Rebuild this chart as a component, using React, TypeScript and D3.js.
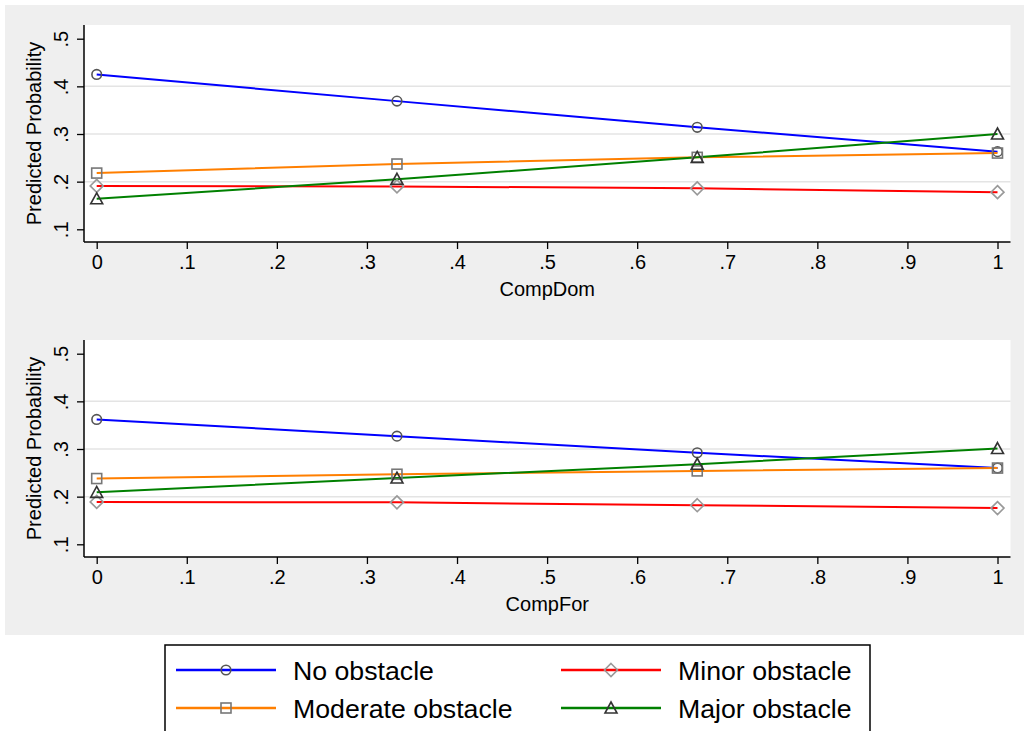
import React, { useEffect, useRef } from 'react';
import * as d3 from 'd3';

const xValues = [0, 1 / 3, 2 / 3, 1];
const xTicks = [0, 0.1, 0.2, 0.3, 0.4, 0.5, 0.6, 0.7, 0.8, 0.9, 1];
const yTicks = [0.1, 0.2, 0.3, 0.4, 0.5];

const seriesNames = ['No obstacle', 'Moderate obstacle', 'Minor obstacle', 'Major obstacle'];

// CompDom panel
const domNo = [0.425, 0.369, 0.314, 0.263];
const domModerate = [0.218, 0.237, 0.251, 0.26];
const domMinor = [0.191, 0.19, 0.186, 0.178];
const domMajor = [0.164, 0.205, 0.251, 0.3];

// CompFor panel
const forNo = [0.362, 0.327, 0.292, 0.26];
const forModerate = [0.238, 0.247, 0.254, 0.26];
const forMinor = [0.189, 0.188, 0.182, 0.176];
const forMajor = [0.209, 0.239, 0.268, 0.301];

const W = 1029;
const H = 731;
const FONT = 'Liberation Sans, Arial, Helvetica, sans-serif';

type Marker = 'circle' | 'square' | 'diamond' | 'triangle';
const STYLE: Record<string, { color: string; marker: Marker; mcolor: string }> = {
  'No obstacle': { color: '#0000ff', marker: 'circle', mcolor: '#555555' },
  'Moderate obstacle': { color: '#ff7f00', marker: 'square', mcolor: '#777777' },
  'Minor obstacle': { color: '#ff0000', marker: 'diamond', mcolor: '#999999' },
  'Major obstacle': { color: '#008000', marker: 'triangle', mcolor: '#333333' },
};

const panels = [
  { title: 'CompDom', top: 0, series: [domNo, domModerate, domMinor, domMajor] },
  { title: 'CompFor', top: 315, series: [forNo, forModerate, forMinor, forMajor] },
];

function drawMarker(
  g: d3.Selection<SVGGElement, unknown, null, undefined>,
  kind: Marker,
  cx: number,
  cy: number,
  color: string,
) {
  const common = (s: d3.Selection<any, unknown, null, undefined>) =>
    s.attr('fill', 'none').attr('stroke', color).attr('stroke-width', 1.6);
  if (kind === 'circle') {
    common(g.append('circle').attr('cx', cx).attr('cy', cy).attr('r', 4.8));
  } else if (kind === 'square') {
    common(g.append('rect').attr('x', cx - 5).attr('y', cy - 5).attr('width', 10).attr('height', 10));
  } else if (kind === 'diamond') {
    common(
      g.append('path').attr('d', `M${cx},${cy - 6.5}L${cx + 6.5},${cy}L${cx},${cy + 6.5}L${cx - 6.5},${cy}Z`),
    );
  } else {
    common(
      g.append('path').attr('d', `M${cx},${cy - 6}L${cx + 6},${cy + 5}L${cx - 6},${cy + 5}Z`),
    );
  }
}

const App: React.FC = () => {
  const svgRef = useRef<SVGSVGElement>(null);

  useEffect(() => {
    if (!svgRef.current) return;
    const root = d3.select(svgRef.current);
    root.selectAll('*').remove();

    // outer graph region
    root.append('rect').attr('x', 0).attr('y', 0).attr('width', W).attr('height', H).attr('fill', '#ffffff');
    root.append('rect').attr('x', 5).attr('y', 5).attr('width', 1019).attr('height', 630).attr('fill', '#efefef');

    const x = d3.scaleLinear().domain([0, 1]).range([96.7, 997.5]);

    panels.forEach(panel => {
      const g = root.append('g').attr('transform', `translate(0,${panel.top})`);
      const y = d3.scaleLinear().domain([0.1, 0.5]).range([229.3, 38.7]);
      const plotTop = 25;
      const plotBottom = 242;
      const plotLeft = 84;
      const plotRight = 1010.5;

      g.append('rect')
        .attr('x', plotLeft)
        .attr('y', plotTop)
        .attr('width', plotRight - plotLeft)
        .attr('height', plotBottom - plotTop)
        .attr('fill', '#ffffff');

      // grid lines (not at the extremes)
      g.selectAll('.grid')
        .data(yTicks.slice(1, -1))
        .enter()
        .append('line')
        .attr('x1', plotLeft)
        .attr('x2', plotRight)
        .attr('y1', d => y(d))
        .attr('y2', d => y(d))
        .attr('stroke', '#e4e4e4')
        .attr('stroke-width', 1.5);

      // y axis
      const yAxis = g
        .append('g')
        .attr('transform', `translate(${plotLeft},0)`)
        .call(
          d3
            .axisLeft(y)
            .tickValues(yTicks)
            .tickSize(7)
            .tickFormat(d => d3.format('.1f')(d as number).replace(/^0/, '')),
        );
      yAxis.select('.domain').attr('d', `M0,${plotTop}V${plotBottom}`).attr('stroke', '#000').attr('stroke-width', 1.5);
      yAxis.selectAll('.tick line').attr('stroke', '#000').attr('stroke-width', 1.3);
      yAxis
        .selectAll('.tick text')
        .attr('x', null)
        .attr('dy', null)
        .attr('transform', 'translate(-16,0) rotate(-90)')
        .attr('text-anchor', 'middle')
        .attr('fill', '#000')
        .style('font-family', FONT)
        .style('font-size', '20px');

      // x axis
      const xAxis = g
        .append('g')
        .attr('transform', `translate(0,${plotBottom})`)
        .call(
          d3
            .axisBottom(x)
            .tickValues(xTicks)
            .tickSize(7)
            .tickPadding(6)
            .tickFormat(d => {
              const v = d as number;
              if (v === 0 || v === 1) return String(v);
              return d3.format('.1f')(v).replace(/^0/, '');
            }),
        );
      xAxis.select('.domain').attr('d', `M${plotLeft},0H${plotRight}`).attr('stroke', '#000').attr('stroke-width', 1.5);
      xAxis.selectAll('.tick line').attr('stroke', '#000').attr('stroke-width', 1.3);
      xAxis
        .selectAll('.tick text')
        .attr('fill', '#000')
        .style('font-family', FONT)
        .style('font-size', '20px');

      g.append('text')
        .attr('x', (plotLeft + plotRight) / 2)
        .attr('y', 296)
        .attr('text-anchor', 'middle')
        .style('font-family', FONT)
        .style('font-size', '20px')
        .text(panel.title);

      g.append('text')
        .attr('transform', `translate(40.5,${(plotTop + plotBottom) / 2 + 0}) rotate(-90)`)
        .attr('text-anchor', 'middle')
        .style('font-family', FONT)
        .style('font-size', '20px')
        .text('Predicted Probability');

      const line = d3
        .line<number>()
        .x((_d, i) => x(xValues[i]))
        .y(d => y(d));

      panel.series.forEach((vals, si) => {
        const st = STYLE[seriesNames[si]];
        g.append('path')
          .attr('d', line(vals) || '')
          .attr('fill', 'none')
          .attr('stroke', st.color)
          .attr('stroke-width', 2);
      });
      panel.series.forEach((vals, si) => {
        const st = STYLE[seriesNames[si]];
        vals.forEach((v, i) => drawMarker(g, st.marker, x(xValues[i]), y(v), st.mcolor));
      });
    });

    // legend
    const legend = root.append('g');
    legend
      .append('rect')
      .attr('x', 165)
      .attr('y', 645)
      .attr('width', 705)
      .attr('height', 110)
      .attr('fill', '#ffffff')
      .attr('stroke', '#000')
      .attr('stroke-width', 1.5);

    const cols = [176, 561];
    const rows = [670, 708];
    const order = ['No obstacle', 'Minor obstacle', 'Moderate obstacle', 'Major obstacle'];
    order.forEach((name, i) => {
      const st = STYLE[name];
      const lx = cols[i % 2];
      const ly = rows[Math.floor(i / 2)];
      legend
        .append('line')
        .attr('x1', lx)
        .attr('x2', lx + 100)
        .attr('y1', ly)
        .attr('y2', ly)
        .attr('stroke', st.color)
        .attr('stroke-width', 2.5);
      drawMarker(legend, st.marker, lx + 50, ly, st.mcolor);
      legend
        .append('text')
        .attr('x', lx + 117)
        .attr('y', ly + 9.5)
        .style('font-family', FONT)
        .style('font-size', '26.7px')
        .attr('fill', '#000')
        .text(name);
    });
  }, []);

  return (
    <svg
      ref={svgRef}
      width={W}
      height={H}
      style={{ position: 'absolute', left: 0, top: 0, display: 'block' }}
    />
  );
};

export default App;
